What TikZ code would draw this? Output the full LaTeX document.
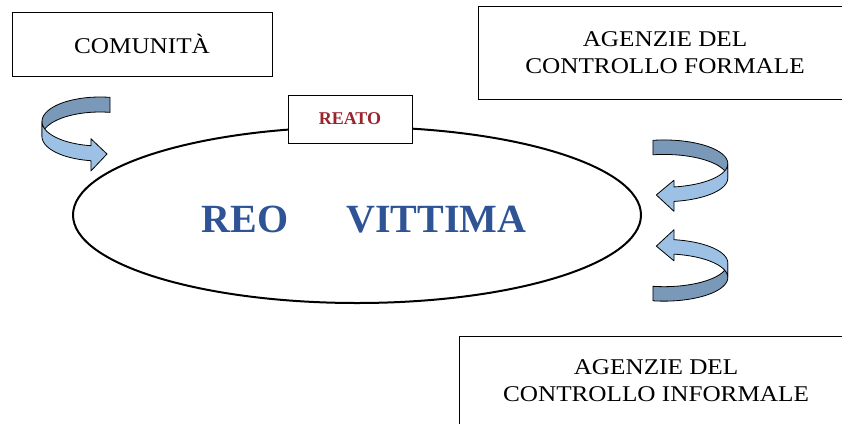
\documentclass[tikz,border=0pt]{standalone}
\usepackage{fontspec}
\usetikzlibrary{shapes.geometric}
\newfontfamily\testo[FakeStretch=1.12]{Liberation Serif}
\newfontfamily\titolo{Liberation Serif}
\definecolor{blureo}{RGB}{47,84,150}
\definecolor{rossoreato}{RGB}{155,35,45}
\definecolor{nastroscuro}{RGB}{122,152,184}
\definecolor{nastrochiaro}{RGB}{157,193,229}

% nastro curvo con punta, in coordinate locali
\newcommand{\freccia}{%
  \filldraw[retro] plot[domain=80:180,smooth] ({58*cos(\x)},{-24.5*sin(\x)})
    -- plot[domain=180:80,smooth] ({58*cos(\x)},{15-24.5*sin(\x)}) -- cycle;
  \filldraw[fronte] plot[domain=180:261,smooth] ({58*cos(\x)},{-24.5*sin(\x)})
    -- (-9.1,17.2) -- (7,32.5) -- (-9.1,49.5)
    -- plot[domain=261:180,smooth] ({58*cos(\x)},{15-24.5*sin(\x)}) -- cycle;
}

\begin{document}
\begin{tikzpicture}[x=1pt,y=-1pt,
    box/.style={draw,line width=0.9pt,fill=white,inner sep=0pt,align=center,
      font=\testo\fontsize{22.5}{27}\selectfont},
    retro/.style={fill=nastroscuro,draw=black,line width=0.8pt,line join=round},
    fronte/.style={fill=nastrochiaro,draw=black,line width=0.8pt,line join=round}]
    \useasboundingbox (0,0) rectangle (842,423);
    \clip (0,0) rectangle (842,423);
    \node[box,minimum width=260,minimum height=64] (comunita) at (142,44) {COMUNITÀ};
    \node[box,minimum width=374,minimum height=93] (formale) at (665,52.5)
      {AGENZIE DEL\\CONTROLLO FORMALE};
    \node[box,minimum width=394,minimum height=90] (informale) at (656,381)
      {AGENZIE DEL\\CONTROLLO INFORMALE};
    \node[draw,ellipse,line width=2pt,minimum width=568,minimum height=176] (cerchio) at (357,215) {};
    \node[box,minimum width=124,minimum height=48,
      font=\titolo\bfseries\fontsize{18}{22}\selectfont,text=rossoreato] (reato) at (350,119) {REATO};
    \node[anchor=base,text=blureo,font=\titolo\bfseries\fontsize{40}{46}\selectfont] (reo) at (245,232) {REO};
    \node[anchor=base,text=blureo,font=\titolo\bfseries\fontsize{40}{46}\selectfont] (vittima) at (436.5,232) {VITTIMA};
    \begin{scope}[shift={(100,121.5)}]
        \freccia
    \end{scope}
    \begin{scope}[shift={(664,163.6)},xscale=-1.1,yscale=0.965]
        \freccia
    \end{scope}
    \begin{scope}[shift={(664,277.5)},xscale=-1.1,yscale=-0.965]
        \freccia
    \end{scope}
\end{tikzpicture}
\end{document}
